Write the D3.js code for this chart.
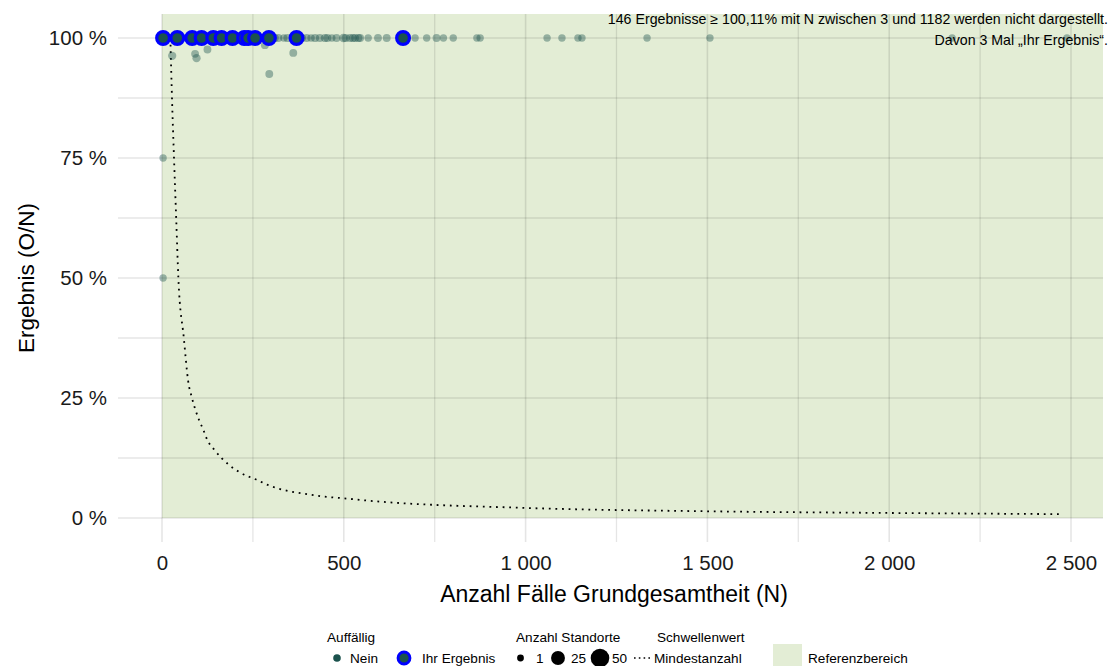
<!DOCTYPE html>
<html>
<head>
<meta charset="utf-8">
<script src="https://cdn.jsdelivr.net/npm/d3@7"></script>
<style>
  body { margin: 0; background: #fff; }
  svg { display: block; font-family: "Liberation Sans", Arial, sans-serif; }
</style>
</head>
<body>
<div class="container"></div>
<script>

// values
var ownN = [3, 42, 83, 109, 141, 164, 194, 226, 237, 256, 294, 370, 663]
var ownPct = [100, 100, 100, 100, 100, 100, 100, 100, 100, 100, 100, 100, 100]
var ownSites = [22, 22, 22, 22, 22, 22, 22, 22, 22, 22, 22, 22, 22]

var otherN = [5, 12, 20, 30, 55, 70, 95, 120, 160, 180, 210, 250, 275, 300, 310, 320, 335, 345,
  360, 385, 398, 410, 421, 434, 448, 455, 467, 480, 499, 505, 517, 525, 531, 540, 545, 567,
  594, 618, 696, 728, 755, 774, 801, 866, 875, 1059, 1100, 1144, 1155, 1334, 1507, 2173, 2489,
  3, 3, 28, 91, 95, 125, 283, 295, 361]
var otherPct = [100, 100, 100, 100, 100, 100, 100, 100, 100, 100, 100, 100, 100, 100, 100, 100, 100, 100,
  100, 100, 100, 100, 100, 100, 100, 100, 100, 100, 100, 100, 100, 100, 100, 100, 100, 100,
  100, 100, 100, 100, 100, 100, 100, 100, 100, 100, 100, 100, 100, 100, 100, 100, 100,
  75, 50, 96.3, 96.7, 95.8, 97.6, 98.5, 92.5, 96.9]
var otherSites = [1, 1, 2, 1, 1, 2, 1, 1, 2, 1, 1, 2, 1, 2, 3, 2, 1, 3,
  2, 3, 2, 1, 3, 2, 3, 2, 1, 2, 4, 3, 2, 3, 2, 3, 2, 1,
  2, 2, 1, 1, 2, 1, 1, 1, 1, 1, 1, 1, 1, 1, 1, 1, 1,
  1, 1, 3, 2, 3, 2, 2, 2, 2]

var thrN = [23, 27.5, 33, 39, 45, 60, 72, 82.5, 102, 114, 125, 144, 182, 212, 262, 297, 349, 405, 441, 500, 569, 1000, 1500, 2000, 2475]
var thrPct = [100, 87.4, 75, 62.5, 50, 37.5, 28.5, 25, 20.4, 18.3, 16.2, 14.2, 11.2, 9.6, 7.9, 6.7, 5.6, 4.9, 4.5, 4.1, 3.6, 2.1, 1.4, 1.05, 0.8]

var xTicks = [0, 500, 1000, 1500, 2000, 2500]
var xMinor = [250, 750, 1250, 1750, 2250]
var yTicks = [0, 25, 50, 75, 100]
var yMinor = [12.5, 37.5, 62.5, 87.5]
var sizeLegend = [1, 25, 50]

var noteLines = [
  '146 Ergebnisse ≥ 100,11% mit N zwischen 3 und 1182 werden nicht dargestellt.',
  'Davon 3 Mal „Ihr Ergebnis“.'
]

var teal = '#1b524d'
var green = '#e3edd5'
var blue = '#0000ff'

var width = 1112, height = 666

var svg = d3.select('.container').append('svg')
  .attr('width', width).attr('height', height)

var x = d3.scaleLinear().domain([0, 2500]).range([162, 1071])
var y = d3.scaleLinear().domain([0, 100]).range([518, 38])
var xLim = [-121, 2588]
var yLim = [-5, 105]

var px0 = x(xLim[0]), px1 = x(xLim[1])
var py0 = y(yLim[0]), py1 = y(yLim[1])

var area = d3.scaleLinear().domain([1, 50]).range([3.4 * 3.4, 9.3 * 9.3])
var r = n => Math.sqrt(area(n))

var de = d3.formatLocale({decimal: ',', thousands: '\u00a0', grouping: [3], currency: ['', '']})
var fmtN = de.format(',')

// reference area
svg.append('rect')
  .attr('x', x(0)).attr('y', py1)
  .attr('width', px1 - x(0)).attr('height', y(0) - py1)
  .attr('fill', green)

// grid
var grid = svg.append('g').attr('stroke', 'rgba(0,0,0,0.1)')
grid.selectAll('line.vx').data(xTicks.concat(xMinor)).join('line')
  .attr('x1', d => x(d)).attr('x2', d => x(d))
  .attr('y1', py1).attr('y2', py0)
  .attr('stroke-width', d => xTicks.includes(d) ? 1.6 : 1.3)
grid.selectAll('line.hy').data(yTicks.concat(yMinor)).join('line')
  .attr('x1', px0).attr('x2', px1)
  .attr('y1', d => y(d)).attr('y2', d => y(d))
  .attr('stroke-width', d => yTicks.includes(d) ? 1.6 : 1.3)

// threshold curve
var thr = thrN.map((n, i) => [n, thrPct[i]])
svg.append('path')
  .datum(thr)
  .attr('d', d3.line().x(d => x(d[0])).y(d => y(d[1])).curve(d3.curveMonotoneX))
  .attr('fill', 'none').attr('stroke', '#000')
  .attr('stroke-width', 1.8).attr('stroke-dasharray', '1.8 4.8')

// other results
var others = otherN.map((n, i) => ({n, pct: otherPct[i], sites: otherSites[i]}))
svg.append('g').selectAll('circle').data(others).join('circle')
  .attr('cx', d => x(d.n)).attr('cy', d => y(d.pct))
  .attr('r', d => r(d.sites) + 0.3)
  .attr('fill', teal).attr('fill-opacity', 0.4)

// own results
var own = ownN.map((n, i) => ({n, pct: ownPct[i], sites: ownSites[i]}))
svg.append('g').selectAll('circle').data(own).join('circle')
  .attr('cx', d => x(d.n)).attr('cy', d => y(d.pct))
  .attr('r', d => r(d.sites) - 0.2)
  .attr('fill', teal).attr('stroke', blue).attr('stroke-width', 3.2)

// axes
svg.append('g').attr('transform', `translate(${px0},0)`)
  .call(d3.axisLeft(y).tickValues(yTicks).tickSize(0).tickPadding(11).tickFormat(d => d + ' %'))
svg.append('g').attr('transform', `translate(0,${py0})`)
  .call(d3.axisBottom(x).tickValues(xTicks).tickSize(0).tickPadding(13.5).tickFormat(fmtN))
svg.selectAll('.domain').remove()
svg.selectAll('.tick text')
  .attr('font-family', '"Liberation Sans", Arial, sans-serif')
  .attr('font-size', 20.5).attr('fill', '#1a1a1a')

svg.append('text')
  .attr('x', 614).attr('y', 602)
  .attr('text-anchor', 'middle').attr('font-size', 23).attr('fill', '#000')
  .text('Anzahl Fälle Grundgesamtheit (N)')

svg.append('text')
  .attr('transform', 'translate(34,278) rotate(-90)')
  .attr('text-anchor', 'middle').attr('font-size', 22.5).attr('fill', '#000')
  .text('Ergebnis (O/N)')

// note
svg.append('g').selectAll('text').data(noteLines).join('text')
  .attr('x', 1108).attr('y', (d, i) => 24 + i * 21)
  .attr('text-anchor', 'end').attr('font-size', 14.2).attr('fill', '#000')
  .text(d => d)

// legend
var leg = svg.append('g').attr('font-size', 13.6).attr('fill', '#000')
var ty = 642, iy = 658

leg.append('text').attr('x', 327).attr('y', ty).text('Auffällig')
leg.append('circle').attr('cx', 337).attr('cy', iy).attr('r', 3.8).attr('fill', teal)
leg.append('text').attr('x', 350).attr('y', iy + 5).text('Nein')
leg.append('circle').attr('cx', 404).attr('cy', iy).attr('r', 6)
  .attr('fill', teal).attr('stroke', blue).attr('stroke-width', 2.8)
leg.append('text').attr('x', 422).attr('y', iy + 5).text('Ihr Ergebnis')

leg.append('text').attr('x', 516).attr('y', ty).text('Anzahl Standorte')
var sx = [520.5, 558, 600]
var stx = [536, 571, 612]
leg.selectAll('circle.sz').data(sizeLegend).join('circle')
  .attr('cx', (d, i) => sx[i]).attr('cy', iy).attr('r', d => r(d)).attr('fill', '#000')
leg.selectAll('text.sz').data(sizeLegend).join('text')
  .attr('x', (d, i) => stx[i]).attr('y', iy + 5).text(d => d)

leg.append('text').attr('x', 657).attr('y', ty).text('Schwellenwert')
leg.append('line').attr('x1', 634).attr('x2', 652).attr('y1', iy).attr('y2', iy)
  .attr('stroke', '#000').attr('stroke-width', 1.6).attr('stroke-dasharray', '1.6 3.2')
leg.append('text').attr('x', 654).attr('y', iy + 5).text('Mindestanzahl')

leg.append('rect').attr('x', 773).attr('y', 644).attr('width', 29).attr('height', 22).attr('fill', green)
leg.append('text').attr('x', 808).attr('y', iy + 5).text('Referenzbereich')

</script>
</body>
</html>
